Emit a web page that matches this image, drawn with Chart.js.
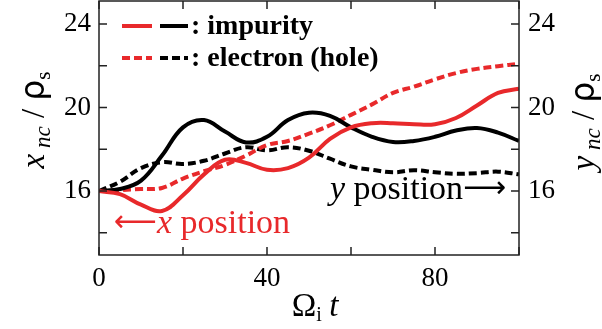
<!DOCTYPE html>
<html>
<head>
<meta charset="utf-8">
<script src="https://cdn.jsdelivr.net/npm/chart.js@4"></script>
<style>
  html, body { margin: 0; padding: 0; background: #fff; }
  #wrap { width: 602px; height: 329px; }
</style>
</head>
<body>
<div id="wrap"><canvas id="posChart" width="602" height="329"></canvas></div>
<script>
// time axis (Omega_i t) and positions
const tVals = [0, 5, 10, 15, 20, 25, 30, 35, 40, 45, 50, 55, 60, 65, 70, 75, 80, 85, 90, 95, 100];
const xImpurity = [16.0, 15.85, 15.35, 15.05, 15.8, 16.8, 17.5, 17.35, 17.02, 17.1, 17.6, 18.5, 19.05, 19.25, 19.25, 19.2, 19.2, 19.5, 20.1, 20.7, 20.9];
const yImpurity = [16.0, 16.1, 16.5, 17.7, 19.05, 19.4, 18.85, 18.33, 18.6, 19.4, 19.75, 19.6, 19.05, 18.6, 18.35, 18.4, 18.6, 18.9, 19.02, 18.8, 18.4];
const xElectron = [16.0, 16.05, 16.1, 16.15, 16.6, 16.95, 17.25, 17.7, 18.2, 18.4, 18.75, 19.15, 19.65, 20.15, 20.7, 21.0, 21.35, 21.65, 21.85, 21.98, 22.1];
const yElectron = [16.0, 16.45, 17.1, 17.38, 17.3, 17.45, 17.8, 18.1, 17.95, 18.1, 17.93, 17.55, 17.18, 17.02, 16.9, 17.0, 16.9, 16.83, 16.86, 16.93, 16.8];

const xTickLabels = [0, 40, 80];
const xMinorTicks = [0, 20, 40, 60, 80, 100];
const yTickLabels = [16, 20, 24];
const yMinorTicks = [14, 16, 18, 20, 22, 24];

const RED = '#e8292b';
const BLACK = '#000000';
const SERIF = '"Liberation Serif", "DejaVu Serif", serif';

function pts(vals) {
    return vals.map((v, i) => ({ x: tVals[i], y: v }));
}

// draw a row of text runs [text, font, dy] centred on cx
function drawRuns(ctx, runs, cx, cy, color) {
    let total = 0;
    runs.forEach(r => { ctx.font = r[1]; total += ctx.measureText(r[0]).width; });
    let x = cx - total / 2;
    ctx.fillStyle = color;
    ctx.textBaseline = 'alphabetic';
    ctx.textAlign = 'left';
    runs.forEach(r => {
        ctx.font = r[1];
        ctx.fillText(r[0], x, cy + (r[2] || 0));
        x += ctx.measureText(r[0]).width;
    });
}

function noPad(s) {
    s.paddingTop = 0; s.paddingBottom = 0; s.paddingLeft = 0; s.paddingRight = 0;
}

const decorPlugin = {
    id: 'decor',
    afterDraw(chart) {
        const ctx = chart.ctx;
        const a = chart.chartArea;
        const xs = chart.scales.x;
        const ys = chart.scales.y;
        ctx.save();

        // frame
        ctx.strokeStyle = '#222';
        ctx.lineWidth = 1.5;
        ctx.strokeRect(a.left, a.top, a.right - a.left, a.bottom - a.top);

        // inward ticks
        const tl = 8;
        ctx.beginPath();
        xMinorTicks.forEach(v => {
            const px = xs.getPixelForValue(v);
            ctx.moveTo(px, a.bottom); ctx.lineTo(px, a.bottom - tl);
            ctx.moveTo(px, a.top); ctx.lineTo(px, a.top + tl);
        });
        yMinorTicks.forEach(v => {
            const py = ys.getPixelForValue(v);
            ctx.moveTo(a.left, py); ctx.lineTo(a.left + tl, py);
            ctx.moveTo(a.right, py); ctx.lineTo(a.right - tl, py);
        });
        ctx.stroke();

        // axis titles
        const yTitle = (letter) => [
            [letter, 'italic 33px ' + SERIF, 0],
            [' nc', 'italic 23px ' + SERIF, 6],
            [' / ', '33px ' + SERIF, 0],
            ['\u03c1', '33px "DejaVu Sans", sans-serif', 0],
            ['s', '21px ' + SERIF, 6]
        ];
        ctx.save();
        ctx.translate(44, 120);
        ctx.rotate(-Math.PI / 2);
        drawRuns(ctx, yTitle('x'), 0, 0, BLACK);
        ctx.restore();

        ctx.save();
        ctx.translate(594, 122);
        ctx.rotate(-Math.PI / 2);
        drawRuns(ctx, yTitle('y'), 0, 0, BLACK);
        ctx.restore();

        drawRuns(ctx, [
            ['\u03a9', '33px ' + SERIF, 0],
            ['i', '20px ' + SERIF, 5],
            [' ', '30px ' + SERIF, 0],
            ['t', 'italic 33px ' + SERIF, 0]
        ], 315, 316, BLACK);

        // annotations
        drawRuns(ctx, [
            ['\u27f5', '30px "DejaVu Sans", sans-serif', -2],
            ['x', 'italic 34px ' + SERIF, 0],
            [' position', '34px ' + SERIF, 0]
        ], 202, 233, RED);
        drawRuns(ctx, [
            ['y', 'italic 34px ' + SERIF, 0],
            [' position', '34px ' + SERIF, 0],
            ['\u27f6', '30px "DejaVu Sans", sans-serif', -2]
        ], 418, 199, BLACK);

        // legend
        ctx.lineWidth = 4;
        ctx.lineCap = 'butt';
        const rows = [
            { y: 26, dash: [], label: ': impurity' },
            { y: 58, dash: [8, 4], label: ': electron (hole)' }
        ];
        rows.forEach(r => {
            ctx.setLineDash(r.dash);
            ctx.strokeStyle = RED;
            ctx.beginPath(); ctx.moveTo(122, r.y); ctx.lineTo(152, r.y); ctx.stroke();
            ctx.strokeStyle = BLACK;
            ctx.beginPath(); ctx.moveTo(160, r.y); ctx.lineTo(188, r.y); ctx.stroke();
            ctx.setLineDash([]);
            ctx.font = 'bold 28px ' + SERIF;
            ctx.fillStyle = BLACK;
            ctx.textAlign = 'left';
            ctx.textBaseline = 'middle';
            ctx.fillText(r.label, 191, r.y + 1);
        });

        ctx.restore();
    }
};

const ctx = document.getElementById('posChart').getContext('2d');
new Chart(ctx, {
    type: 'line',
    data: {
        datasets: [
            { label: 'x impurity', data: pts(xImpurity), borderColor: RED, borderWidth: 4, tension: 0.4, pointRadius: 0, fill: false },
            { label: 'y impurity', data: pts(yImpurity), borderColor: BLACK, borderWidth: 4, tension: 0.4, pointRadius: 0, fill: false },
            { label: 'x electron', data: pts(xElectron), borderColor: RED, borderWidth: 4, borderDash: [8, 4], tension: 0.4, pointRadius: 0, fill: false },
            { label: 'y electron', data: pts(yElectron), borderColor: BLACK, borderWidth: 4, borderDash: [8, 4], tension: 0.4, pointRadius: 0, fill: false }
        ]
    },
    options: {
        responsive: false,
        animation: false,
        layout: { padding: { top: 1, left: 0, right: 0, bottom: 0 } },
        plugins: {
            legend: { display: false },
            tooltip: { enabled: false }
        },
        scales: {
            x: {
                type: 'linear',
                min: 0,
                max: 100,
                grid: { display: false, drawTicks: false },
                border: { display: false },
                afterBuildTicks: s => { s.ticks = xTickLabels.map(v => ({ value: v })); },
                afterFit: s => { s.height = 74; noPad(s); },
                ticks: { color: '#000', padding: 8, font: { family: SERIF, size: 27 } }
            },
            y: {
                position: 'left',
                min: 12.94,
                max: 25.1,
                grid: { display: false, drawTicks: false },
                border: { display: false },
                afterBuildTicks: s => { s.ticks = yTickLabels.map(v => ({ value: v })); },
                afterFit: s => { s.width = 99; noPad(s); },
                ticks: { color: '#000', padding: 8, font: { family: SERIF, size: 27 } }
            },
            y2: {
                position: 'right',
                min: 12.94,
                max: 25.1,
                grid: { display: false, drawTicks: false },
                border: { display: false },
                afterBuildTicks: s => { s.ticks = yTickLabels.map(v => ({ value: v })); },
                afterFit: s => { s.width = 83; noPad(s); },
                ticks: { color: '#000', padding: 9, font: { family: SERIF, size: 27 } }
            }
        }
    },
    plugins: [decorPlugin]
});
</script>
</body>
</html>
